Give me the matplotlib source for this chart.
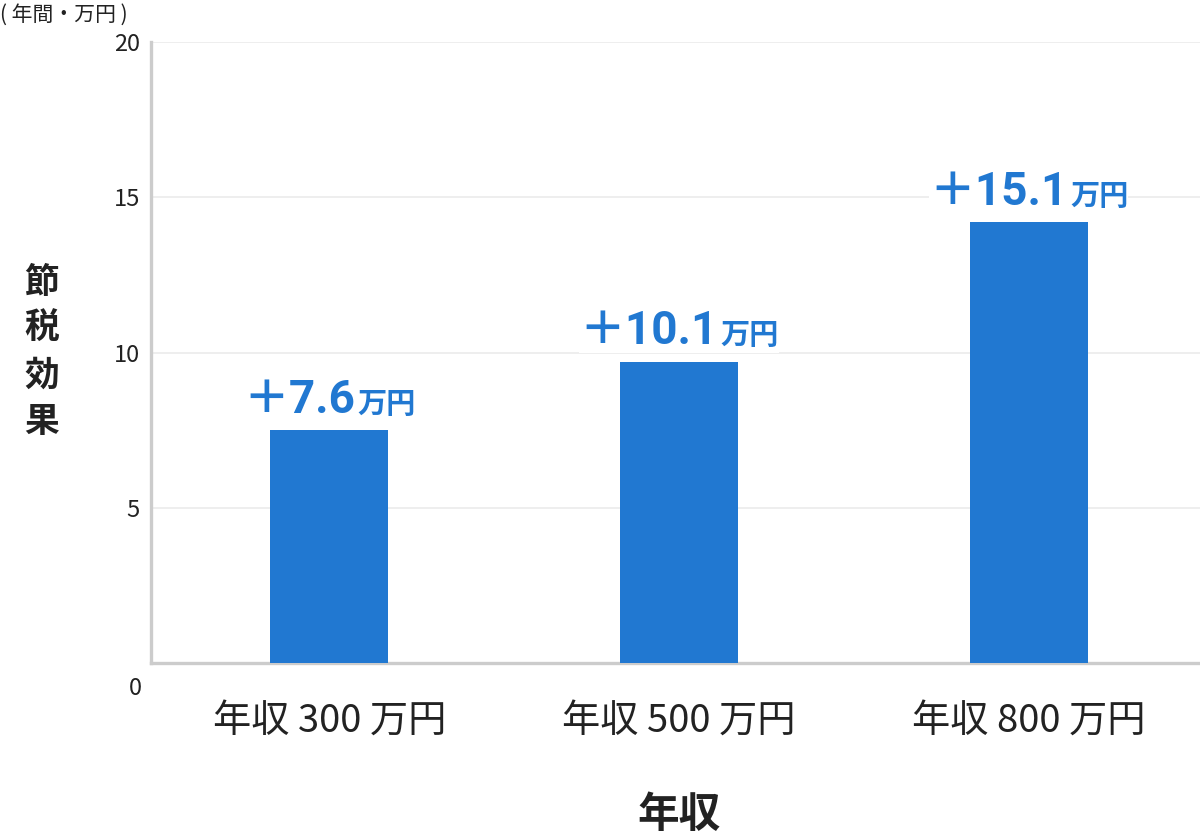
import matplotlib
matplotlib.use("Agg")
import matplotlib.pyplot as plt
from matplotlib.offsetbox import TextArea, HPacker, AnnotationBbox

plt.rcParams['font.family'] = ['Noto Sans CJK JP', 'DejaVu Sans']

# data
categories = ['年収 300 万円', '年収 500 万円', '年収 800 万円']
bar_values = [7.5, 9.7, 14.2]          # drawn bar heights
label_values = ['＋7.6', '＋10.1', '＋15.1']
y_ticks = [5, 10, 15, 20]

blue = '#2178d1'
grey = '#cccccc'
dark = '#222222'

fig = plt.figure(figsize=(12, 8.35), dpi=100)
ax = fig.add_axes([151 / 1200, 172 / 835, 1049 / 1200, 621 / 835])

x = list(range(len(categories)))
ax.bar(x, bar_values, width=0.337, color=blue, zorder=3)

ax.set_xlim(-0.51, 2.49)
ax.set_ylim(0, 20)
ax.set_yticks(y_ticks)
ax.set_yticklabels([str(v) for v in y_ticks], fontsize=17, color=dark)
ax.set_xticks(x)
ax.set_xticklabels(categories, fontsize=27.5, color=dark)
ax.tick_params(axis='both', length=0)
ax.tick_params(axis='y', pad=8)
ax.tick_params(axis='x', pad=28)

ax.grid(axis='y', color='#ebebeb', linewidth=1.2, zorder=0)
ax.set_axisbelow(True)
for s in ['top', 'right']:
    ax.spines[s].set_visible(False)
for s in ['left', 'bottom']:
    ax.spines[s].set_color(grey)
    ax.spines[s].set_linewidth(2.4)

# the "0" sits below the axis line in the original
ax.text(-0.009, -0.022, '0', transform=ax.transAxes, ha='right', va='top',
        fontsize=17, color=dark)

# value labels
for xi, h, lab in zip(x, bar_values, label_values):
    main = TextArea(lab, textprops=dict(color=blue, fontsize=33, fontweight='bold',
                                        family=['Roboto', 'Noto Sans CJK JP']))
    unit = TextArea('万円', textprops=dict(color=blue, fontsize=21, fontweight='bold'))
    box = HPacker(children=[main, unit], align='baseline', pad=0, sep=2)
    ab = AnnotationBbox(box, (xi, h), xybox=(0, 6), xycoords='data',
                        boxcoords='offset points', box_alignment=(0.5, 0),
                        frameon=True, pad=0.0,
                        bboxprops=dict(facecolor='white', edgecolor='none'))
    ab.set_zorder(4)
    ax.add_artist(ab)

# axis titles
fig.text(42 / 1200, 1 - 352 / 835, '節\n税\n効\n果', ha='center', va='center',
         fontsize=25, fontweight='bold', linespacing=1.4, color=dark)
fig.text(679 / 1200, 1 - 815 / 835, '年収', ha='center', va='center',
         fontsize=30, fontweight='bold', color=dark)
fig.text(0, 1 - 15 / 835, '( 年間・万円 )', ha='left', va='center',
         fontsize=15, color=dark)

fig.savefig('out.png', dpi=100)
